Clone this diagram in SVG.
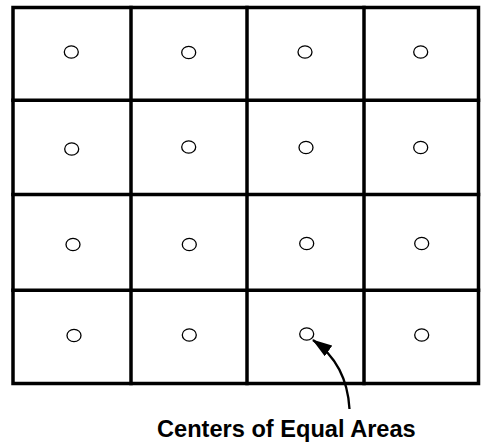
<svg xmlns="http://www.w3.org/2000/svg" width="482" height="442" viewBox="0 0 482 442">
<style>
.grid{stroke:#000;stroke-width:3.5;fill:none;stroke-linecap:square}
.c{fill:#fff;stroke:#000;stroke-width:1.3}
.lbl{font-family:"Liberation Sans",Arial,sans-serif;font-weight:bold;font-size:23.6px;fill:#000}
</style>
<defs>
<marker id="ahb" markerWidth="20" markerHeight="13" refX="19" refY="6.5" orient="auto" markerUnits="userSpaceOnUse" viewBox="0 0 20 13">
<path d="M0,0 L20,6.5 L0,13 z" fill="#000"/>
</marker>
</defs>
<g id="grid">
<rect class="grid" x="13" y="7.5" width="465.5" height="376"/>
<line class="grid" x1="131" y1="7.5" x2="131" y2="383.5"/>
<line class="grid" x1="247" y1="7.5" x2="247" y2="383.5"/>
<line class="grid" x1="364" y1="7.5" x2="364" y2="383.5"/>
<line class="grid" x1="13" y1="100.3" x2="478.5" y2="100.3"/>
<line class="grid" x1="13" y1="194.5" x2="478.5" y2="194.5"/>
<line class="grid" x1="13" y1="290.3" x2="478.5" y2="290.3"/>
</g>
<g id="centers">
<ellipse class="c" cx="71.3" cy="52" rx="7" ry="6.2"/>
<ellipse class="c" cx="188.7" cy="52.5" rx="7" ry="6.2"/>
<ellipse class="c" cx="305" cy="52" rx="7" ry="6.2"/>
<ellipse class="c" cx="420.7" cy="52" rx="7" ry="6.2"/>
<ellipse class="c" cx="71.7" cy="149" rx="7" ry="6.2"/>
<ellipse class="c" cx="188.7" cy="147" rx="7" ry="6.2"/>
<ellipse class="c" cx="306" cy="147.5" rx="7" ry="6.2"/>
<ellipse class="c" cx="420.7" cy="147.5" rx="7" ry="6.2"/>
<ellipse class="c" cx="73" cy="244.5" rx="7" ry="6.2"/>
<ellipse class="c" cx="189.3" cy="244.5" rx="7" ry="6.2"/>
<ellipse class="c" cx="306.7" cy="243.5" rx="7" ry="6.2"/>
<ellipse class="c" cx="421.7" cy="243.5" rx="7" ry="6.2"/>
<ellipse class="c" cx="74" cy="335.5" rx="7" ry="6.2"/>
<ellipse class="c" cx="189.3" cy="335" rx="7" ry="6.2"/>
<ellipse class="c" cx="306.7" cy="334" rx="7" ry="6.2"/>
<ellipse class="c" cx="421.7" cy="335" rx="7" ry="6.2"/>
</g>
<g id="connectors">
<path d="M349.5,409 Q347,364 313,340" fill="none" stroke="#000" stroke-width="2.3" marker-end="url(#ahb)"/>
</g>
<g id="label">
<text class="lbl" x="157" y="437">Centers of Equal Areas</text>
</g>
</svg>
